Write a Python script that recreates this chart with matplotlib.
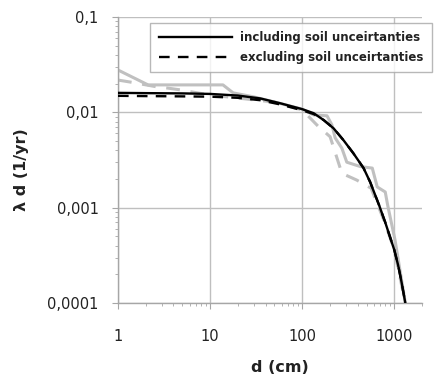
import matplotlib
matplotlib.use("Agg")
import matplotlib.pyplot as plt
from matplotlib.ticker import FixedLocator, FixedFormatter, LogLocator, NullFormatter

# smooth fitted curves (black)
d_fit = [1, 2, 5, 10, 20, 35, 57.7, 100, 133, 171, 219, 281, 361, 464, 548, 687, 798, 1000,
         1100, 1200, 1318]
incl_fit = [0.0160, 0.0159, 0.0158, 0.0156, 0.0150, 0.0140, 0.01245, 0.0108, 0.0098, 0.0083,
            0.0068, 0.0051, 0.0037, 0.0026, 0.00185, 0.00105, 0.00070, 0.00036, 0.00025,
            0.000165, 0.0001]
excl_fit = [0.0149, 0.0148, 0.0147, 0.0146, 0.0142, 0.0134, 0.0121, 0.0105, 0.0096, 0.0083,
            0.0068, 0.0051, 0.0037, 0.0026, 0.00185, 0.00105, 0.00070, 0.00036, 0.00025,
            0.000165, 0.0001]

# empirical step curves (gray)
d_incl_emp = [1, 2.12, 13.8, 17.8, 30, 57.7, 100, 133, 186, 210, 228, 270, 305, 427, 577, 653,
              798, 839, 855, 1018, 1318]
incl_emp = [0.0278, 0.0194, 0.0194, 0.0160, 0.0145, 0.0124, 0.0108, 0.0094, 0.0092, 0.0074,
            0.0054, 0.0042, 0.0030, 0.0027, 0.0026, 0.00165, 0.00146, 0.00112, 0.00102,
            0.00046, 0.0001]
d_excl_emp = [1, 1.35, 2.65, 3.4, 4.96, 6.5, 10, 50, 100, 150, 201, 270, 390, 560, 798, 1000, 1318]
excl_emp = [0.0218, 0.0208, 0.0185, 0.0180, 0.0171, 0.0163, 0.0152, 0.0128, 0.0106, 0.0071,
            0.00555, 0.00229, 0.00195, 0.00160, 0.00068, 0.00036, 0.0001]

x_ticks = [1, 10, 100, 1000]
x_labels = ["1", "10", "100", "1000"]
y_ticks = [0.0001, 0.001, 0.01, 0.1]
y_labels = ["0,0001", "0,001", "0,01", "0,1"]

grid_col = "#bfbfbf"
emp_col = "#c0c0c0"

fig = plt.figure(figsize=(4.38, 3.77), dpi=100)
ax = fig.add_axes([118 / 438, 1 - 303 / 377, (422 - 118) / 438, (303 - 17) / 377])

ax.plot(d_incl_emp, incl_emp, color=emp_col, lw=2.2, zorder=2)
ax.plot(d_excl_emp, excl_emp, color=emp_col, lw=2.2, ls=(0, (4.5, 3.5)), zorder=2)
ax.plot(d_fit, incl_fit, color="black", lw=1.7, zorder=3, label="including soil unceirtanties")
ax.plot(d_fit, excl_fit, color="black", lw=1.7, ls=(0, (4.5, 3.5)), zorder=3,
        label="excluding soil unceirtanties")

ax.set_xscale("log")
ax.set_yscale("log")
ax.set_xlim(1, 2000)
ax.set_ylim(0.0001, 0.1)

ax.xaxis.set_major_locator(FixedLocator(x_ticks))
ax.xaxis.set_major_formatter(FixedFormatter(x_labels))
ax.yaxis.set_major_locator(FixedLocator(y_ticks))
ax.yaxis.set_major_formatter(FixedFormatter(y_labels))
ax.xaxis.set_minor_locator(LogLocator(base=10, subs=range(2, 10), numticks=20))
ax.yaxis.set_minor_locator(LogLocator(base=10, subs=range(2, 10), numticks=20))
ax.xaxis.set_minor_formatter(NullFormatter())
ax.yaxis.set_minor_formatter(NullFormatter())

ax.grid(True, which="major", color=grid_col, lw=1.0)
ax.set_axisbelow(True)
for s in ["top", "right"]:
    ax.spines[s].set_visible(False)
for s in ["left", "bottom"]:
    ax.spines[s].set_color("#a6a6a6")
    ax.spines[s].set_linewidth(1.0)

ax.tick_params(axis="both", which="major", length=4, width=0.8, color="#a6a6a6",
               labelsize=10.5, labelcolor="#222222")
ax.tick_params(axis="both", which="minor", length=2.5, width=0.6, color="#a6a6a6")
ax.tick_params(axis="x", which="major", pad=15)
ax.tick_params(axis="y", which="major", pad=10)

fig.text(22 / 438, 1 - 170 / 377, "λ d (1/yr)", rotation=90, ha="center", va="center",
         fontsize=11.5, fontweight="bold", color="#222222")
fig.text(280 / 438, 1 - 367 / 377, "d (cm)", ha="center", va="center",
         fontsize=11.5, fontweight="bold", color="#222222")

leg = ax.legend(loc="upper left", bbox_to_anchor=(150 / 438, 1 - 23 / 377),
                bbox_transform=fig.transFigure, borderaxespad=0, fancybox=False,
                handlelength=6.2, handletextpad=0.7, labelspacing=0.55,
                prop={"size": 8.5, "weight": "bold"}, borderpad=0.72)
leg.get_frame().set_edgecolor("#a6a6a6")
leg.get_frame().set_linewidth(1.0)
for t in leg.get_texts():
    t.set_color("#222222")

fig.savefig("out.png", dpi=100)
